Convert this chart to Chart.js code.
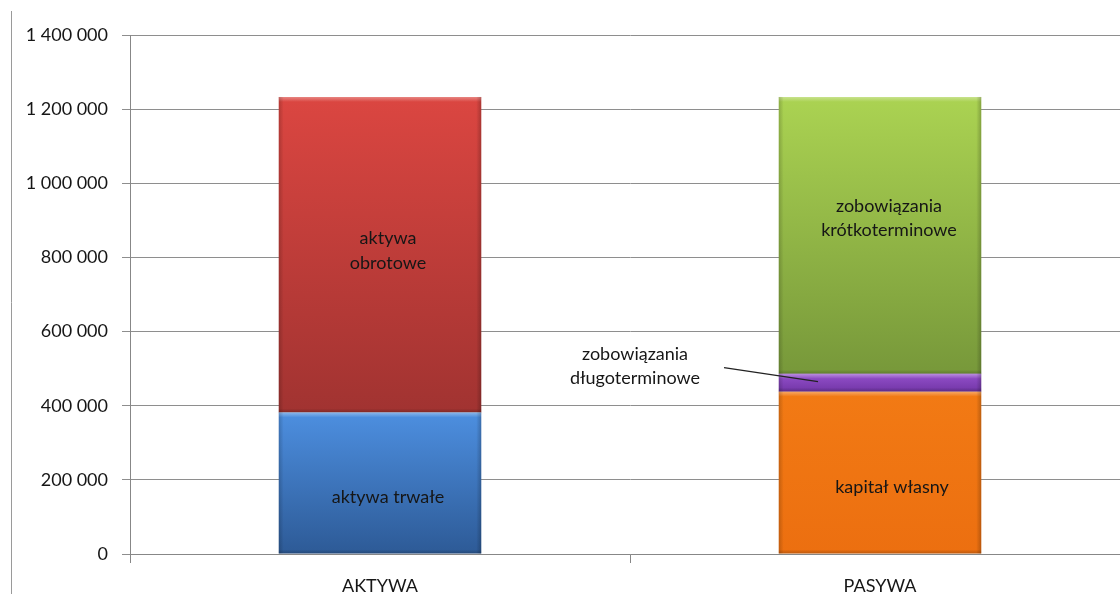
<!DOCTYPE html>
<html>
<head>
<meta charset="utf-8">
<script src="https://cdn.jsdelivr.net/npm/chart.js@4.4.1/dist/chart.umd.min.js"></script>
<style>
  html, body { margin: 0; padding: 0; background: #fff; overflow: hidden; }
  #wrap { width: 1120px; height: 594px; overflow: hidden; position: relative; }
  #box { width: 1140px; height: 594px; }
</style>
</head>
<body>
<div id="wrap"><div id="box"><canvas id="chartCanvas"></canvas></div></div>
<script>
// data
const categories = ["AKTYWA", "PASYWA"];
const aktywaTrwale = [382000, null];
const aktywaObrotowe = [851000, null];
const kapitalWlasny = [null, 438000];
const zobDlugo = [null, 48000];
const zobKrotko = [null, 747000];
const yTicks = [0, 200000, 400000, 600000, 800000, 1000000, 1200000, 1400000];

// colours: [top, bottom] of each segment
const colours = {
  trwale: ["#4D8FE0", "#2D5A96"],
  obrotowe: ["#DB4641", "#A13331"],
  kapital: ["#F27A14", "#EC6F10"],
  dlugo: ["#9450CC", "#7236A6"],
  krotko: ["#ABD352", "#77983A"]
};

function fmt(v) {
  return String(v).replace(/\B(?=(\d{3})+(?!\d))/g, " ");
}

// vertical gradient over each segment, from the y scale
function grad(pair) {
  return (ctx) => {
    const chart = ctx.chart;
    const y = chart.scales.y;
    if (!chart.chartArea || !y || ctx.type !== "data") return pair[0];
    const sets = chart.data.datasets;
    let start = 0;
    for (let k = 0; k < ctx.datasetIndex; k++) start += sets[k].data[ctx.dataIndex] || 0;
    const end = start + (sets[ctx.datasetIndex].data[ctx.dataIndex] || 0);
    const y0 = y.getPixelForValue(end), y1 = y.getPixelForValue(start);
    if (!isFinite(y0) || !isFinite(y1) || y0 === y1) return pair[0];
    const g = chart.ctx.createLinearGradient(0, y0, 0, y1);
    g.addColorStop(0, pair[0]);
    g.addColorStop(1, pair[1]);
    return g;
  };
}

function ds(label, data, pair) {
  return {
    label: label,
    data: data,
    backgroundColor: grad(pair),
    borderWidth: 0,
    stack: "s"
  };
}

// labels inside the segments: [dataset, text lines, dx, dy]
const segLabels = [
  [0, ["aktywa trwałe"], 8, 14],
  [1, ["aktywa", "obrotowe"], 8, -4],
  [2, ["kapitał własny"], 12, 15],
  [4, ["zobowiązania", "krótkoterminowe"], 9, -17]
];

const bevel = {
  id: "bevel",
  afterDatasetsDraw(chart) {
    const c = chart.ctx;
    c.save();
    chart.data.datasets.forEach((d, i) => {
      chart.getDatasetMeta(i).data.forEach((el, j) => {
        if (d.data[j] == null) return;
        const l = el.x - el.width / 2, r = el.x + el.width / 2;
        const t = el.y, b = el.base;
        // top highlight
        let g = c.createLinearGradient(0, t, 0, t + 5);
        g.addColorStop(0, "rgba(255,255,255,0.35)");
        g.addColorStop(1, "rgba(255,255,255,0)");
        c.fillStyle = g;
        c.fillRect(l, t, r - l, 5);
        // side shading
        g = c.createLinearGradient(l, 0, l + 5, 0);
        g.addColorStop(0, "rgba(0,0,0,0.18)");
        g.addColorStop(1, "rgba(0,0,0,0)");
        c.fillStyle = g;
        c.fillRect(l, t, 5, b - t);
        g = c.createLinearGradient(r, 0, r - 5, 0);
        g.addColorStop(0, "rgba(0,0,0,0.22)");
        g.addColorStop(1, "rgba(0,0,0,0)");
        c.fillStyle = g;
        c.fillRect(r - 5, t, 5, b - t);
        // bottom shading
        g = c.createLinearGradient(0, b, 0, b - 4);
        g.addColorStop(0, "rgba(0,0,0,0.2)");
        g.addColorStop(1, "rgba(0,0,0,0)");
        c.fillStyle = g;
        c.fillRect(l, b - 4, r - l, 4);
      });
    });
    c.restore();
  }
};

const labels = {
  id: "labels",
  afterDraw(chart) {
    const c = chart.ctx;
    c.save();
    c.font = "18px Lato";
    c.fillStyle = "#161616";
    c.textAlign = "center";
    c.textBaseline = "middle";
    segLabels.forEach(([di, lines, dx, dy]) => {
      const meta = chart.getDatasetMeta(di);
      const idx = chart.data.datasets[di].data.findIndex(v => v != null);
      const el = meta.data[idx];
      const cy = (el.y + el.base) / 2 + dy;
      const lh = 24.5;
      lines.forEach((s, k) => {
        c.fillText(s, el.x + dx, cy + (k - (lines.length - 1) / 2) * lh);
      });
    });
    // callout for zobowiązania długoterminowe
    const el = chart.getDatasetMeta(3).data[1];
    const cy = (el.y + el.base) / 2;
    c.fillText("zobowiązania", el.x - 245, cy - 29);
    c.fillText("długoterminowe", el.x - 245, cy - 5);
    c.strokeStyle = "#222";
    c.lineWidth = 1.3;
    c.beginPath();
    c.moveTo(el.x - 156, cy - 15);
    c.lineTo(el.x - 62, cy - 1);
    c.stroke();
    // outer chart border on the left
    c.strokeStyle = "#9a9a9a";
    c.lineWidth = 1;
    c.beginPath();
    c.moveTo(11.5, 11);
    c.lineTo(11.5, 594);
    c.stroke();
    c.restore();
  }
};

new Chart(document.getElementById("chartCanvas"), {
  type: "bar",
  data: {
    labels: categories,
    datasets: [
      ds("aktywa trwałe", aktywaTrwale, colours.trwale),
      ds("aktywa obrotowe", aktywaObrotowe, colours.obrotowe),
      ds("kapitał własny", kapitalWlasny, colours.kapital),
      ds("zobowiązania długoterminowe", zobDlugo, colours.dlugo),
      ds("zobowiązania krótkoterminowe", zobKrotko, colours.krotko)
    ]
  },
  options: {
    responsive: true,
    maintainAspectRatio: false,
    animation: false,
    layout: { padding: { top: 35, right: 10, left: 0, bottom: 0 } },
    datasets: { bar: { barPercentage: 0.405, categoryPercentage: 1 } },
    plugins: { legend: { display: false }, tooltip: { enabled: false } },
    scales: {
      x: {
        stacked: true,
        offset: true,
        border: { color: "#878787", width: 1 },
        grid: { offset: true, drawOnChartArea: false, drawTicks: true, tickLength: 9, color: "#878787" },
        ticks: { color: "#161616", font: { family: "Lato", size: 18 }, padding: 12 },
        afterFit(scale) { scale.height = 40; }
      },
      y: {
        stacked: true,
        min: 0,
        max: 1400000,
        afterBuildTicks(scale) { scale.ticks = yTicks.map(v => ({ value: v })); },
        border: { color: "#878787", width: 1 },
        grid: { color: "#8e8e8e", tickLength: 8 },
        ticks: {
          color: "#161616",
          font: { family: "Lato", size: 18 },
          padding: 14,
          callback: (v) => fmt(v)
        },
        afterFit(scale) { scale.width = 130; }
      }
    }
  },
  plugins: [bevel, labels]
});
</script>
</body>
</html>
